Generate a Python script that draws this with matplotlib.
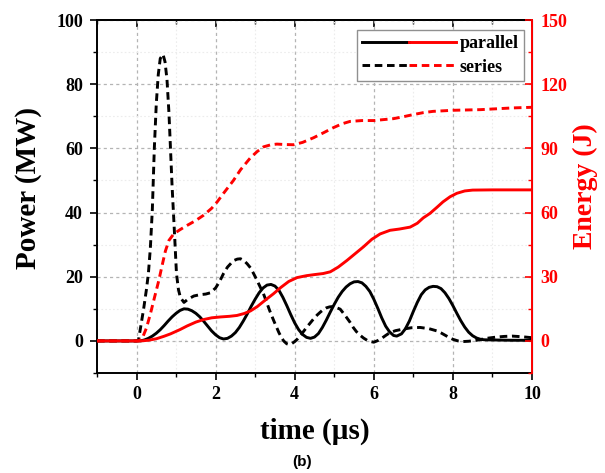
import matplotlib
matplotlib.use("Agg")
import matplotlib.pyplot as plt
from matplotlib.ticker import MultipleLocator
from matplotlib.legend_handler import HandlerTuple

# ---- data: time in microseconds ----
t_par_power = [-1, 0, 0.1, 0.2, 0.3, 0.4, 0.5, 0.6, 0.7, 0.8, 0.9, 1.0, 1.1, 1.2,
               1.3, 1.4, 1.5, 1.6, 1.7, 1.8, 1.9, 2.0, 2.1, 2.2, 2.3, 2.4, 2.5,
               2.6, 2.7, 2.8, 2.9, 3.0, 3.1, 3.2, 3.3, 3.4, 3.5, 3.6, 3.7, 3.8,
               3.9, 4.0, 4.1, 4.2, 4.3, 4.4, 4.5, 4.6, 4.7, 4.8, 4.9, 5.0, 5.1,
               5.2, 5.3, 5.4, 5.5, 5.6, 5.7, 5.8, 5.9, 6.0, 6.1, 6.2, 6.3, 6.4,
               6.5, 6.58, 6.7, 6.8, 6.9, 7.0, 7.1, 7.2, 7.3, 7.4, 7.5, 7.6, 7.7,
               7.8, 7.9, 8.0, 8.1, 8.2, 8.3, 8.4, 8.5, 8.6, 8.7, 8.8, 9.0, 9.5, 10]
par_power = [0, 0, 0, 0.3, 0.8, 1.5, 2.4, 3.5, 4.8, 6.2, 7.5, 8.6, 9.5, 10.0,
             9.9, 9.4, 8.6, 7.5, 6.1, 4.6, 3.1, 1.9, 1.0, 0.6, 0.8, 1.5, 2.6,
             4.2, 6.2, 8.4, 10.8, 13.0, 15.0, 16.5, 17.4, 17.6, 17.1, 15.8, 13.6, 11.0,
             8.2, 5.6, 3.5, 2.0, 1.1, 0.8, 1.2, 2.3, 4.2, 6.5, 9.0, 11.4, 13.6,
             15.4, 16.8, 17.8, 18.4, 18.5, 18.1, 17.0, 15.4, 13.0, 10.2, 7.2, 4.6, 2.8,
             1.7, 1.5, 2.2, 3.8, 6.2, 9.2, 12.0, 14.4, 15.9, 16.7, 17.0, 16.9, 16.3,
             15.0, 13.2, 11.0, 8.6, 6.3, 4.3, 2.7, 1.6, 0.9, 0.5, 0.35, 0.3, 0.2, 0.2]

t_ser_power = [-1, 0, 0.05, 0.1, 0.18, 0.25, 0.3, 0.35, 0.4, 0.45, 0.5, 0.55, 0.6,
               0.67, 0.72, 0.77, 0.82, 0.86, 0.9, 0.95, 1.01, 1.06, 1.11, 1.2, 1.3,
               1.45, 1.6, 1.75, 1.87, 2.0, 2.1, 2.2, 2.3, 2.45, 2.55, 2.63, 2.72,
               2.8, 2.88, 2.96, 3.03, 3.1, 3.21, 3.28, 3.35, 3.41, 3.47, 3.54, 3.6,
               3.66, 3.72, 3.8, 3.85, 3.92, 4.0, 4.07, 4.14, 4.22, 4.3, 4.4, 4.48,
               4.57, 4.65, 4.73, 4.8, 4.88, 4.95, 5.05, 5.15, 5.22, 5.3, 5.4, 5.48,
               5.56, 5.65, 5.74, 5.83, 5.92, 6.0, 6.1, 6.2, 6.3, 6.41, 6.55, 6.75,
               6.95, 7.17, 7.4, 7.6, 7.7, 7.8, 7.9, 8.0, 8.13, 8.26, 8.4, 8.6, 8.85,
               9.1, 9.3, 9.5, 9.75, 10]
ser_power = [0, 0, 0.3, 4.0, 10.0, 16.0, 21.0, 29.0, 41.0, 60.0, 74.0, 83.0, 88.0,
             89.3, 87.0, 81.5, 71.0, 59.6, 48.0, 36.0, 21.0, 16.0, 13.5, 12.0, 13.0,
             14.0, 14.4, 14.6, 15.0, 16.5, 18.5, 21.0, 23.0, 25.0, 25.5, 25.6, 25.0,
             24.0, 22.8, 21.0, 19.3, 17.5, 14.7, 12.4, 10.0, 8.1, 6.3, 4.3, 2.6,
             1.2, 0.0, -0.9, -1.1, -0.9, -0.2, 0.6, 1.6, 2.9, 4.2, 5.7, 6.9,
             8.1, 9.0, 9.8, 10.3, 10.6, 10.7, 10.4, 9.9, 8.8, 7.5, 5.8, 4.2,
             2.9, 1.8, 0.9, 0.2, -0.2, -0.4, 0.1, 0.8, 1.7, 2.6, 3.2, 3.7,
             4.1, 4.2, 3.8, 3.1, 2.5, 1.8, 1.1, 0.5, 0.0, -0.2, -0.1, 0.2, 0.8,
             1.2, 1.4, 1.5, 1.3, 1.0]

t_par_energy = [-1, 0.1, 0.3, 0.5, 0.7, 0.86, 1.1, 1.28, 1.5, 1.7, 1.9, 2.12, 2.35,
                2.54, 2.72, 2.88, 3.05, 3.25, 3.46, 3.65, 3.85, 4.06, 4.3, 4.5,
                4.72, 4.9, 5.1, 5.32, 5.53, 5.74, 5.95, 6.16, 6.41, 6.65, 6.92,
                7.1, 7.25, 7.42, 7.6, 7.75, 7.93, 8.1, 8.3, 8.5, 9.0, 10]
par_energy = [0, 0, 0.3, 1.0, 2.2, 3.3, 5.3, 7.0, 8.8, 10.0, 10.8, 11.2, 11.5,
              11.9, 12.8, 14.0, 16.0, 19.0, 22.0, 25.0, 27.8, 29.6, 30.5, 31.0,
              31.5, 32.3, 34.5, 37.6, 40.8, 44.0, 47.5, 50.0, 51.7, 52.3, 53.2,
              55.0, 57.5, 59.6, 62.5, 65.0, 67.4, 69.0, 70.1, 70.5, 70.6, 70.6]

t_ser_energy = [-1, 0.05, 0.14, 0.25, 0.35, 0.45, 0.56, 0.65, 0.73, 0.82, 0.94,
                1.1, 1.28, 1.5, 1.7, 1.9, 2.04, 2.2, 2.45, 2.63, 2.88, 3.05, 3.21,
                3.4, 3.55, 3.75, 3.97, 4.2, 4.48, 4.75, 4.98, 5.2, 5.4, 5.7, 6.0,
                6.5, 6.75, 7.0, 7.25, 7.5, 8.0, 8.7, 9.5, 10]
ser_energy = [0, 0, 1.0, 6.0, 12.6, 20.0, 28.0, 35.5, 42.0, 47.0, 50.0,
              52.0, 54.0, 56.3, 58.8, 62.0, 65.0, 69.0, 75.0, 80.0, 85.6, 88.5, 90.7,
              91.7, 92.0, 91.8, 91.7, 92.8, 95.0, 97.5, 99.7, 101.5, 102.6, 103.0, 103.0,
              103.9, 104.8, 105.8, 106.7, 107.3, 107.8, 108.1, 108.9, 109.2]

x_ticks = [0, 2, 4, 6, 8, 10]
power_ticks = [0, 20, 40, 60, 80, 100]
energy_ticks = [0, 30, 60, 90, 120, 150]

# ---- styling ----
serif = "Liberation Serif"
RED = "#ff0000"
LW = 2.1
DASH = (2.6, 1.6)

fig = plt.figure(figsize=(6.05, 4.73), dpi=100)
ax = fig.add_axes([0.1603, 0.2114, 0.7190, 0.7463])
ax2 = ax.twinx()

l_pp, = ax.plot(t_par_power, par_power, color="black", lw=LW,
                solid_joinstyle="round")
l_sp, = ax.plot(t_ser_power, ser_power, color="black", lw=LW,
                linestyle=(0, DASH))
l_pe, = ax2.plot(t_par_energy, par_energy, color=RED, lw=LW,
                 solid_joinstyle="round")
l_se, = ax2.plot(t_ser_energy, ser_energy, color=RED, lw=LW,
                 linestyle=(0, DASH))

ax.set_xlim(-1, 10)
ax.set_ylim(-10, 100)
ax2.set_ylim(-15, 150)

ax.set_xticks(x_ticks)
ax.xaxis.set_minor_locator(MultipleLocator(1))
ax.set_yticks(power_ticks)
ax.yaxis.set_minor_locator(MultipleLocator(10))
ax2.set_yticks(energy_ticks)
ax2.yaxis.set_minor_locator(MultipleLocator(15))

# grid
ax.set_axisbelow(True)
ax.grid(which="major", color="#b4b4b4", linestyle=(0, (2.5, 2.5)), linewidth=0.9)
ax.grid(which="minor", color="#ececec", linestyle=(0, (1.5, 2.0)), linewidth=0.8)

tick_font = dict(fontfamily=serif, fontweight="bold", fontsize=13)

ax.tick_params(axis="x", which="major", direction="out", length=5, width=1.2,
               pad=4, top=False)
ax.tick_params(axis="x", which="minor", direction="out", length=3, width=1.0,
               top=False)
ax.tick_params(axis="y", which="major", direction="out", length=5, width=1.2,
               pad=5, right=False)
ax.tick_params(axis="y", which="minor", direction="out", length=3, width=1.0,
               right=False)
for lab in ax.get_xticklabels() + ax.get_yticklabels():
    lab.set(**tick_font)

ax2.tick_params(axis="y", which="major", direction="in", length=5, width=1.2,
                pad=6, colors=RED)
ax2.tick_params(axis="y", which="minor", direction="in", length=3, width=1.0,
                colors=RED)
for lab in ax2.get_yticklabels():
    lab.set(**tick_font)

top = ax.secondary_xaxis("top")
top.set_xticks(x_ticks)
top.xaxis.set_minor_locator(MultipleLocator(1))
top.tick_params(axis="x", which="major", direction="in", length=5, width=1.2,
                labeltop=False)
top.tick_params(axis="x", which="minor", direction="in", length=3, width=1.0)
top.spines["top"].set_linewidth(1.4)

for s in ("left", "bottom", "top"):
    ax.spines[s].set_linewidth(1.4)
ax2.spines["right"].set_color(RED)
ax2.spines["right"].set_linewidth(1.4)
for s in ("left", "bottom", "top"):
    ax2.spines[s].set_visible(False)

label_font = dict(fontfamily=serif, fontweight="bold", fontsize=21)
ax.set_xlabel("time (µs)", labelpad=11, **label_font)
ax.set_ylabel("Power (MW)", labelpad=10, **label_font)
ax2.set_ylabel("Energy (J)", color=RED, labelpad=4, fontfamily=serif,
               fontweight="bold", fontsize=20)
ax.yaxis.label.set_y(0.524)
ax2.yaxis.label.set_y(0.53)

leg = ax2.legend([(l_pp, l_pe), (l_sp, l_se)], ["parallel", "series"],
                 handler_map={tuple: HandlerTuple(ndivide=None, pad=0.0)},
                 loc="upper right", bbox_to_anchor=(0.982, 0.972),
                 borderaxespad=0, handlelength=5.2, handletextpad=0.2,
                 labelspacing=0.35, borderpad=0.3, fancybox=False,
                 edgecolor="#909090", framealpha=1,
                 prop=dict(family=serif, weight="bold", size=13))
leg.get_frame().set_linewidth(1.0)

fig.text(0.5, 0.023, "(b)", ha="center", va="center",
         fontfamily="Liberation Sans", fontweight="bold", fontsize=11)

fig.savefig("out.png", dpi=100)
